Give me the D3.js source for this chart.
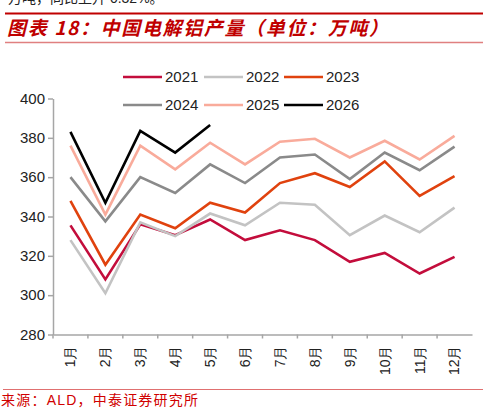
<!DOCTYPE html>
<html>
<head>
<meta charset="utf-8">
<script src="https://cdn.jsdelivr.net/npm/d3@7"></script>
<style>
  body { margin: 0; background: #fff; }
  svg { display: block; font-family: "Liberation Sans", Arial, "Noto Sans CJK SC", sans-serif; }
</style>
</head>
<body>
<script>
// Data
let months = ['1月', '2月', '3月', '4月', '5月', '6月', '7月', '8月', '9月', '10月', '11月', '12月'];
let years = ['2021', '2022', '2023', '2024', '2025', '2026'];
let y2021 = [335.5, 308, 336, 330.5, 338.5, 328, 333, 328, 317, 321.5, 311, 319.5];
let y2022 = [328, 301, 337, 330, 341.5, 335.5, 347, 346, 330.5, 340.5, 332, 344.5];
let y2023 = [348, 315.5, 341, 334, 347, 342, 357, 362, 355, 368, 350.5, 360.5];
let y2024 = [360, 337.5, 360, 352, 366.5, 357, 370, 371.5, 359, 372.5, 363.5, 375.5];
let y2025 = [376, 341, 376, 364, 377.5, 366.5, 378, 379.5, 370, 378.5, 369, 381];
let y2026 = [383, 347, 383.5, 372.5, 386.5];
let yTicks = [280, 300, 320, 340, 360, 380, 400];

let series = [y2021, y2022, y2023, y2024, y2025, y2026].map((vals, i) => ({
  name: years[i],
  values: vals.map((v, j) => ({ month: months[j], value: v }))
}));

let colors = {
  '2021': '#c30d3c',
  '2022': '#c3c3c3',
  '2023': '#e0420e',
  '2024': '#8a8a8a',
  '2025': '#f9ab9b',
  '2026': '#000000'
};

let width = 488, height = 413;
let margin = { top: 98.5, bottom: 78.5, left: 53, right: 16 };

let svg = d3.select('body')
  .append('svg')
  .attr('width', width)
  .attr('height', height)
  .style('background', '#fff');

// tail of the previous paragraph, clipped by the top edge as in the source page
svg.append('text')
  .attr('x', 8)
  .attr('y', 3)
  .style('font-size', '14px')
  .style('fill', '#222')
  .text('万吨，同比上升 0.32%。');

// header lines + title
svg.append('line')
  .attr('x1', 5).attr('x2', 483)
  .attr('y1', 13.5).attr('y2', 13.5)
  .style('stroke', '#c00000')
  .style('stroke-width', 2.2);

svg.append('text')
  .attr('x', 7)
  .attr('y', 35)
  .attr('textLength', 381)
  .attr('lengthAdjust', 'spacing')
  .style('font-family', '"Noto Sans CJK SC", sans-serif')
  .style('font-size', '19px')
  .style('font-weight', 'bold')
  .style('font-style', 'italic')
  .style('fill', '#c00000')
  .text('图表 18：中国电解铝产量（单位：万吨）');

svg.append('line')
  .attr('x1', 5).attr('x2', 483)
  .attr('y1', 42.5).attr('y2', 42.5)
  .style('stroke', '#e08080')
  .style('stroke-width', 1.5);

// Scales
let xScale = d3.scaleBand()
  .domain(months)
  .range([margin.left, width - margin.right]);

let yScale = d3.scaleLinear()
  .domain([280, 400])
  .range([height - margin.bottom, margin.top]);

let axisColor = '#a6a6a6';

// y axis
let yAxis = svg.append('g')
  .attr('transform', `translate(${margin.left},0)`)
  .call(d3.axisLeft(yScale).tickValues(yTicks).tickSize(5).tickSizeOuter(0).tickPadding(3));
yAxis.select('.domain').style('stroke', axisColor).style('stroke-width', 1.5);
yAxis.selectAll('.tick line').style('stroke', axisColor).style('stroke-width', 1.5);
yAxis.selectAll('text')
  .style('font-size', '15px')
  .style('font-family', '"Liberation Sans", Arial, sans-serif')
  .style('fill', '#222');

// x axis
let xAxis = svg.append('g')
  .attr('transform', `translate(0,${height - margin.bottom})`)
  .call(d3.axisBottom(xScale).tickSize(0).tickSizeOuter(0));
xAxis.select('.domain').style('stroke', axisColor).style('stroke-width', 1.5);
xAxis.selectAll('.tick text')
  .attr('transform', 'rotate(-90)')
  .attr('x', -11)
  .attr('y', 0)
  .attr('dy', '0.35em')
  .attr('text-anchor', 'end')
  .style('font-size', '14px')
  .style('fill', '#222');

// x ticks between categories
xAxis.selectAll('.sep')
  .data(months)
  .enter()
  .append('line')
  .attr('class', 'sep')
  .attr('x1', d => xScale(d)).attr('x2', d => xScale(d))
  .attr('y1', 0).attr('y2', 4)
  .style('stroke', axisColor)
  .style('stroke-width', 1.5);

// Lines
let line = d3.line()
  .x(d => xScale(d.month) + xScale.bandwidth() / 2)
  .y(d => yScale(d.value));

svg.selectAll('.series')
  .data(series)
  .enter()
  .append('path')
  .attr('class', 'series')
  .attr('d', d => line(d.values))
  .style('fill', 'none')
  .style('stroke', d => colors[d.name])
  .style('stroke-width', 2.6)
  .style('stroke-linejoin', 'miter');

// Legend
let legendX = [123, 204, 284];
let legendY = [77, 105];
let legend = svg.selectAll('.legend')
  .data(years)
  .enter()
  .append('g')
  .attr('class', 'legend')
  .attr('transform', (d, i) => `translate(${legendX[i % 3]},${legendY[Math.floor(i / 3)]})`);

legend.append('line')
  .attr('x1', 0).attr('x2', 39)
  .attr('y1', 0).attr('y2', 0)
  .style('stroke', d => colors[d])
  .style('stroke-width', 2.6);

legend.append('text')
  .attr('x', 42)
  .attr('y', 0)
  .attr('dy', '0.36em')
  .style('font-size', '15px')
  .style('fill', '#222')
  .text(d => d);

// Source
svg.append('line')
  .attr('x1', 3).attr('x2', 483)
  .attr('y1', 389.5).attr('y2', 389.5)
  .style('stroke', '#e07070')
  .style('stroke-width', 1.2);

svg.append('text')
  .attr('x', 1)
  .attr('y', 405)
  .attr('textLength', 197)
  .attr('lengthAdjust', 'spacing')
  .style('font-size', '14px')
  .style('fill', '#d00000')
  .text('来源：ALD，中泰证券研究所');
</script>
</body>
</html>
